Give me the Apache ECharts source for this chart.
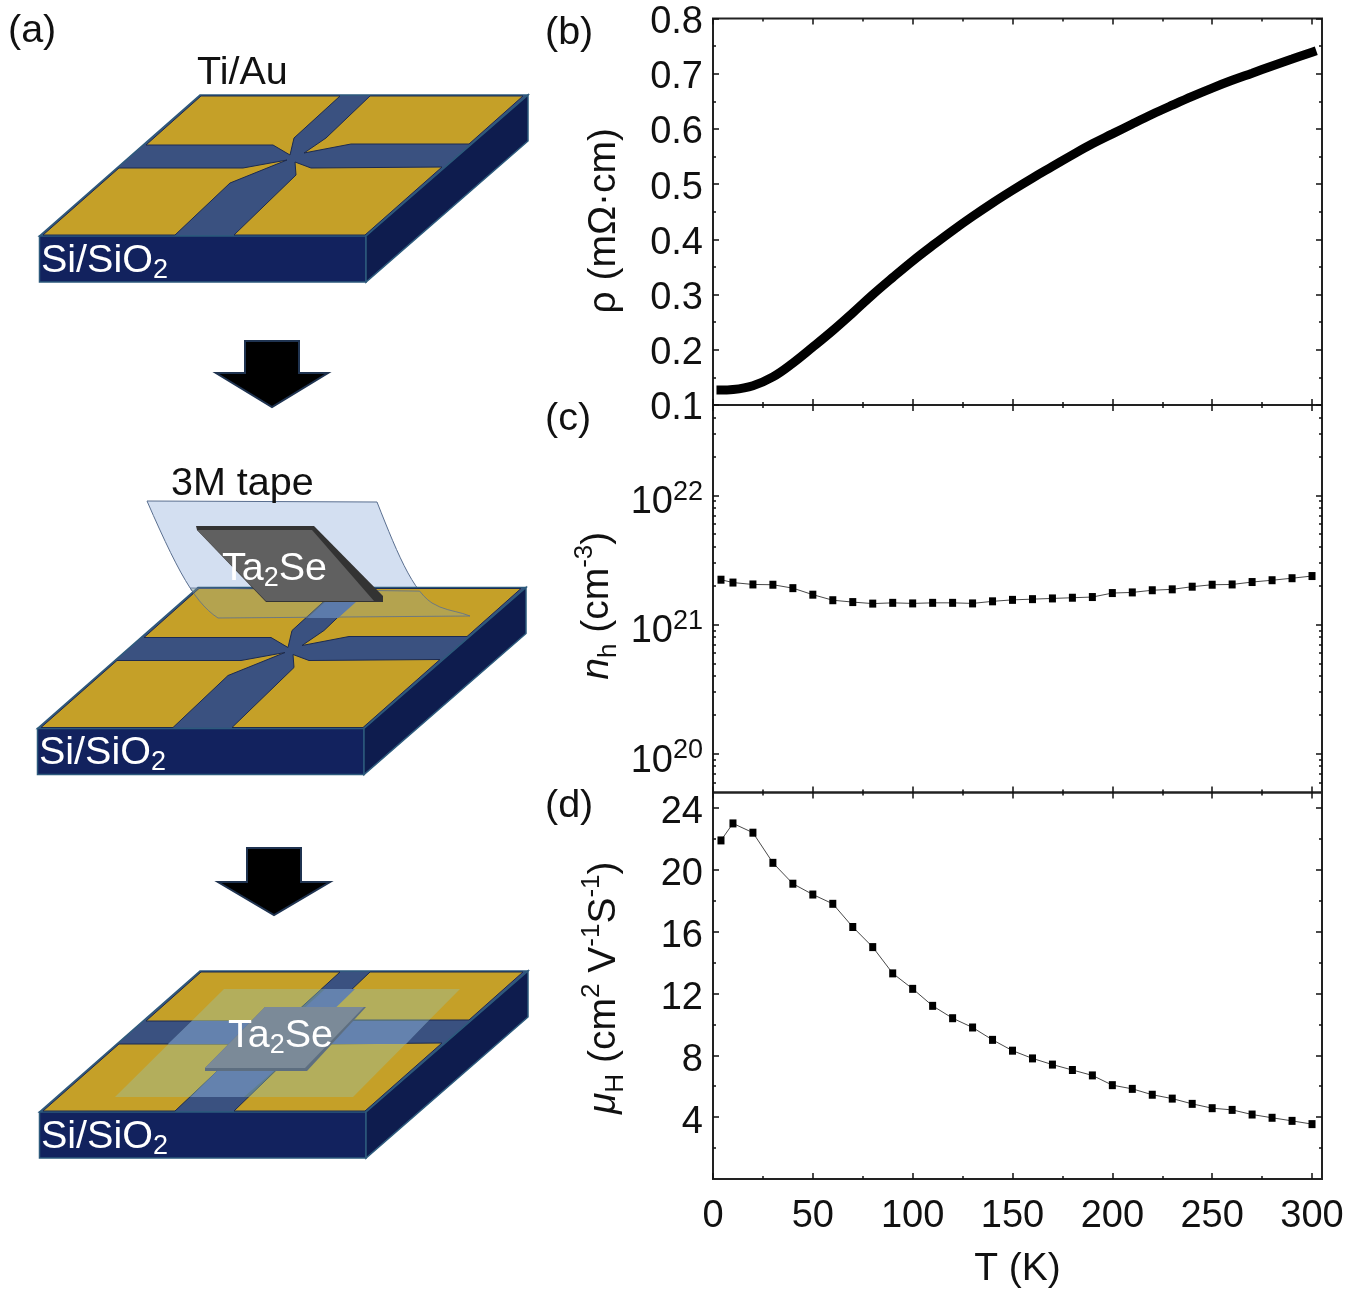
<!DOCTYPE html>
<html><head><meta charset="utf-8">
<style>html,body{margin:0;padding:0;background:#fff}#c{width:1350px;height:1295px}</style>
<script src="https://cdn.jsdelivr.net/npm/echarts@6/dist/echarts.min.js"></script>
</head><body><div id="c"></div>
<script>
// ---------- data ----------
const rhoT = [4,10,20,30,40,50,60,70,80,90,100,110,120,130,140,150,160,170,180,190,200,210,220,230,240,250,260,270,280,290,300];
const rhoVals = [.127,.128,.135,.151,.176,.205,.235,.267,.30,.331,.361,.389,.416,.4416,.466,.489,.511,.532,.553,.573,.591,.609,.6265,.643,.659,.674,.688,.701,.714,.7265,.739];
const hallT = [4,10,20,30,40,50,60,70,80,90,100,110,120,130,140,150,160,170,180,190,200,210,220,230,240,250,260,270,280,290,300];
const nhVals = [2.22e21,2.11e21,2.04e21,2.03e21,1.91e21,1.70e21,1.54e21,1.49e21,1.45e21,1.47e21,1.455e21,1.47e21,1.47e21,1.455e21,1.51e21,1.55e21,1.57e21,1.59e21,1.61e21,1.63e21,1.75e21,1.77e21,1.84e21,1.87e21,1.96e21,2.03e21,2.04e21,2.13e21,2.20e21,2.28e21,2.37e21];
const muVals = [21.9,23.0,22.4,20.45,19.1,18.4,17.8,16.3,15.0,13.3,12.3,11.2,10.4,9.8,9.0,8.3,7.8,7.4,7.05,6.7,6.07,5.83,5.45,5.2,4.86,4.58,4.47,4.17,3.96,3.76,3.55];
const xMajor = [0,50,100,150,200,250,300];
const xMinor = [25,75,125,175,225,275];
const rhoMajor = [0.1,0.2,0.3,0.4,0.5,0.6,0.7,0.8];
const rhoMinor = [0.15,0.25,0.35,0.45,0.55,0.65,0.75];
const nhMajor = [1e20,1e21,1e22];
const nhMinor = [6e19,7e19,8e19,9e19,2e20,3e20,4e20,5e20,6e20,7e20,8e20,9e20,2e21,3e21,4e21,5e21,6e21,7e21,8e21,9e21,2e22,3e22,4e22];
const muMajor = [4,8,12,16,20,24];
const muMinor = [2,6,10,14,18,22];

// ---------- shared styling ----------
const FONT = '"Liberation Sans", Arial, sans-serif';
const INK = '#111';
const TICK_SIZE = 38;
const NAME_SIZE = 39;
const plainRich = {v: {fontSize: TICK_SIZE, fontFamily: FONT, color: INK, lineHeight: 44}};

function tickAxis(pos, gridIndex, type, range, values, len, label) {
  const a = {
    type, gridIndex, position: pos, min: range[0], max: range[1],
    axisLine: {show: false, onZero: false},
    splitLine: {show: false}, minorTick: {show: false},
    axisTick: {show: true, inside: true, length: len, customValues: values, lineStyle: {color: INK, width: 1.5}},
    axisLabel: {show: false},
    nameTextStyle: {fontFamily: FONT}
  };
  if (type === 'log') a.logBase = 10;
  if (label) a.axisLabel = Object.assign({show: true, customValues: values, color: INK, fontFamily: FONT, fontSize: TICK_SIZE, hideOverlap: false}, label);
  return a;
}
const xRange = [0, 305];
const xAxes = [], yAxes = [];
const panels = [
  {type: 'value', range: [0.1, 0.8], major: rhoMajor, minor: rhoMinor, label: {margin: 10, padding: [8, 0, 0, 0], rich: plainRich, formatter: v => '{v|' + v.toFixed(1) + '}'}},
  {type: 'log', range: [5e19, 5e22], major: nhMajor, minor: nhMinor, label: {margin: 10, padding: [15, 0, 0, 0],
     formatter: v => '10{s|' + Math.round(Math.log10(v)) + '}',
     rich: {s: {fontSize: 27, fontFamily: FONT, color: INK, verticalAlign: 'top', lineHeight: 48}}, lineHeight: 48}},
  {type: 'value', range: [0, 25], major: muMajor, minor: muMinor, label: {margin: 10, padding: [10, 0, 0, 0], rich: plainRich, formatter: v => '{v|' + v + '}'}}
];
panels.forEach((p, g) => {
  const base = xAxes.length;
  p.xIndex = base; p.yIndex = yAxes.length;
  xAxes.push(tickAxis('bottom', g, 'value', xRange, xMajor, 6, g === 2 ? {margin: 19, formatter: v => String(v)} : null));
  xAxes.push(tickAxis('bottom', g, 'value', xRange, xMinor, 3, null));
  xAxes.push(tickAxis('top', g, 'value', xRange, xMajor, 6, null));
  xAxes.push(tickAxis('top', g, 'value', xRange, xMinor, 3, null));
  yAxes.push(tickAxis('left', g, p.type, p.range, p.major, 6, p.label));
  yAxes.push(tickAxis('left', g, p.type, p.range, p.minor, 3, null));
  yAxes.push(tickAxis('right', g, p.type, p.range, p.major, 6, null));
  yAxes.push(tickAxis('right', g, p.type, p.range, p.minor, 3, null));
});
// axis titles
function nameStyle(extra) { return Object.assign({fontFamily: FONT, fontSize: NAME_SIZE, color: INK, lineHeight: 50}, extra || {}); }
const subSty = {fontSize: 26, fontFamily: FONT, color: INK, verticalAlign: 'bottom', lineHeight: 46};
const supSty = {fontSize: 26, fontFamily: FONT, color: INK, verticalAlign: 'top', lineHeight: 46};
const itSty = {fontSize: NAME_SIZE, fontFamily: FONT, color: INK, fontStyle: 'italic'};
const xd = xAxes[panels[2].xIndex];
xd.name = 'T (K)'; xd.nameLocation = 'middle'; xd.nameGap = 65; xd.nameTextStyle = nameStyle();
const y0 = yAxes[panels[0].yIndex], y1 = yAxes[panels[1].yIndex], y2 = yAxes[panels[2].yIndex];
y0.name = 'ρ (mΩ·cm)'; y0.nameLocation = 'middle'; y0.nameGap = 84; y0.nameTextStyle = nameStyle({padding: [0, 18, 0, 0]});
y1.name = '{i|n}{sub|h} (cm{sup|-3})'; y1.nameLocation = 'middle'; y1.nameGap = 91;
y1.nameTextStyle = nameStyle({padding: [0, 14, 0, 0], rich: {i: itSty, sub: subSty, sup: supSty}});
y2.name = '{i|μ}{sub|H} (cm{sup|2} V{sup|-1}S{sup|-1})'; y2.nameLocation = 'middle'; y2.nameGap = 84;
y2.nameTextStyle = nameStyle({padding: [0, 4, 0, 0], rich: {i: itSty, sub: subSty, sup: supSty}});

function pairs(xs, ys) { return xs.map((x, i) => [x, ys[i]]); }
const hallLine = {color: '#333', width: 0.9};
const series = [
  {type: 'line', name: 'rho', xAxisIndex: panels[0].xIndex, yAxisIndex: panels[0].yIndex, data: pairs(rhoT, rhoVals),
   showSymbol: false, symbol: 'none', smooth: 0.4, lineStyle: {color: '#000', width: 9, cap: 'square'}, animation: false},
  {type: 'line', name: 'nh', xAxisIndex: panels[1].xIndex, yAxisIndex: panels[1].yIndex, data: pairs(hallT, nhVals),
   symbol: 'rect', symbolSize: [7, 8], showSymbol: true, showAllSymbol: true, itemStyle: {color: '#000'}, lineStyle: hallLine, animation: false},
  {type: 'line', name: 'mu', xAxisIndex: panels[2].xIndex, yAxisIndex: panels[2].yIndex, data: pairs(hallT, muVals),
   symbol: 'rect', symbolSize: [7, 8], showSymbol: true, showAllSymbol: true, itemStyle: {color: '#000'}, lineStyle: hallLine, animation: false}
];

// ---------- schematic (panel a) ----------
const GOLD = '#c5a028', CHAN = '#3a5180', FRONT = '#12225e', SIDE = '#0e1c4e', EDGE = '#2d5a7c', PAD_EDGE = '#1c2a50';
const LIT_CHAN = '#6482ae';
const LABEL_SIZE = 39.5;
const els = [];
function poly(points, fill, stroke, lw, z) {
  els.push({type: 'polygon', silent: true, z: z || 10, shape: {points}, style: {fill, stroke: stroke || null, lineWidth: lw || 0}});
}
function txt(x, y, text, size, fill, rich, align) {
  els.push({type: 'text', silent: true, z: 20, x, y, style: {text, fill, fontFamily: FONT, fontSize: size, font: size + 'px ' + FONT,
    align: align || 'left', verticalAlign: 'middle', rich: rich || undefined}});
}
function shift(pts, dx, dy) { return pts.map(p => [p[0] + dx, p[1] + dy]); }
const whiteSub = {d: {fontSize: 27, fontFamily: FONT, color: '#fff', fill: '#fff', verticalAlign: 'bottom', lineHeight: 46}};
function chip(dx, dy) {
  poly(shift([[200,95],[528,95],[366,236],[39.5,236]], dx, dy), CHAN, EDGE, 1.5);
  poly(shift([[39.5,236],[366,236],[366,282],[39.5,282]], dx, dy), FRONT, EDGE, 1.5);
  poly(shift([[366,236],[528,95],[528,141],[366,282]], dx, dy), SIDE, EDGE, 1.5);
  const s = PAD_EDGE;
  poly(shift([[201,96],[340,96],[294,138],[290,155],[273,145],[146,145]], dx, dy), GOLD, s, 1);
  poly(shift([[370,96],[523,96],[469,144],[351,144],[304,153],[326,138]], dx, dy), GOLD, s, 1);
  poly(shift([[119,168],[243,168],[287,160],[230,183],[175,235],[43,235]], dx, dy), GOLD, s, 1);
  poly(shift([[295,162],[311,168],[442,167],[365,235],[234,235],[296,175]], dx, dy), GOLD, s, 1);
  txt(41 + dx, 261 + dy, 'Si/SiO{d|2}', LABEL_SIZE, '#fff', whiteSub);
}
function arrow(top, shoulder, tip, cx, halfShaft, halfHead) {
  poly([[cx-halfShaft,top],[cx+halfShaft,top],[cx+halfShaft,shoulder],[cx+halfHead,shoulder],[cx,tip],[cx-halfHead,shoulder],[cx-halfShaft,shoulder]], '#000', '#1f3350', 2);
}
function bez(a, b, c, d, n) {
  const out = [];
  for (let i = 0; i <= n; i++) {
    const t = i / n, u = 1 - t;
    out.push([u*u*u*a[0]+3*u*u*t*b[0]+3*u*t*t*c[0]+t*t*t*d[0], u*u*u*a[1]+3*u*u*t*b[1]+3*u*t*t*c[1]+t*t*t*d[1]]);
  }
  return out;
}
// step 1
chip(0, 0);
txt(197, 73, 'Ti/Au', LABEL_SIZE, INK);
arrow(341, 373, 407, 272, 27, 56);
// step 2
const tapeOutline = [].concat(
  bez([377,502],[396,550],[412,590],[432,603],14),
  bez([432,603],[445,611],[458,611],[470,616],5),
  [[218,618]],
  bez([218,618],[195,603],[178,572],[147,501],14)
);
poly(tapeOutline, '#d3dff1', '#5a6f90', 1);
chip(-2, 492.5);
// tape lying across the chip
poly(tapeOutline.filter(p => p[1] >= 587.5), 'rgba(150,170,150,0.36)', '#5a6f90', 0.8);
poly([[325,602],[356,602],[338,618],[307.5,618]], '#5c7bab', null);
poly([[196,526],[314,526],[383,596],[383,602],[266,602],[197,530]], '#333', null);
poly([[197,530],[312,530],[374,601],[266,601]], '#606060', null);
txt(222, 569, 'Ta{d|2}Se', LABEL_SIZE, '#fff', whiteSub);
txt(171, 484, '3M tape', LABEL_SIZE, INK);
arrow(848, 882, 915, 274, 27, 56);
// step 3
chip(0, 876);
poly([[224,989],[460,989],[353,1097],[115,1097]], 'rgba(152,195,170,0.40)', null);
poly([[192,1021],[428,1021],[406,1044],[168,1044]], LIT_CHAN, null);
poly([[325,989],[355,989],[322,1021],[290,1021]], LIT_CHAN, null);
poly([[218,1070],[275,1070],[244,1097],[191,1097]], LIT_CHAN, null);
poly([[265,1007],[366,1007],[307,1071],[205,1071],[205,1068]], '#5d6e80', null);
poly([[265,1007],[364,1007],[305,1068],[205,1068]], '#7b8a98', null);
txt(228, 1036, 'Ta{d|2}Se', LABEL_SIZE, '#fff', whiteSub);
// panel letters
txt(8, 31, '(a)', LABEL_SIZE, INK);
txt(545, 33, '(b)', LABEL_SIZE, INK);
txt(545, 419, '(c)', LABEL_SIZE, INK);
txt(545, 806, '(d)', LABEL_SIZE, INK);

const frame = {show: true, backgroundColor: 'transparent', borderColor: '#222', borderWidth: 2, left: 713, width: 609, outerBoundsMode: 'none'};
const chart = echarts.init(document.getElementById('c'), null, {renderer: 'canvas'});
chart.setOption({
  backgroundColor: '#fff',
  animation: false,
  grid: [
    Object.assign({top: 18.5, height: 386.5}, frame),
    Object.assign({top: 405, height: 387.5}, frame),
    Object.assign({top: 792.5, height: 386.5}, frame)
  ],
  xAxis: xAxes,
  yAxis: yAxes,
  series,
  graphic: {elements: els}
});
</script></body></html>
